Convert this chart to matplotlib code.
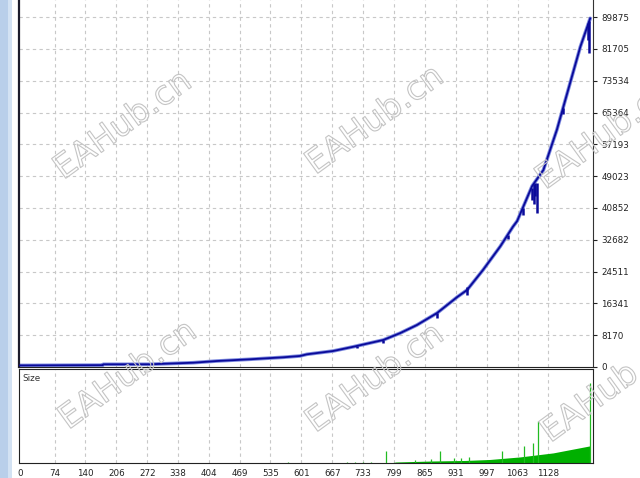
import matplotlib
matplotlib.use('Agg')
import matplotlib.pyplot as plt
import matplotlib.patheffects as pe
from matplotlib.patches import Rectangle

# ---- data ----
x_ticks = [0, 74, 140, 206, 272, 338, 404, 469, 535, 601, 667, 733, 799, 865, 931, 997, 1063, 1128]
y_ticks = [0, 8170, 16341, 24511, 32682, 40852, 49023, 57193, 65364, 73534, 81705, 89875]

balance_trades = [0, 100, 177, 178, 278, 370, 421, 491, 562, 598, 613, 669, 712, 776,
                  812, 848, 891, 934, 955, 989, 1026, 1053, 1062, 1094, 1118, 1147,
                  1160, 1197, 1218]
balance_values = [400, 450, 480, 690, 700, 1100, 1540, 1980, 2490, 2830, 3260, 4110, 5200, 6940,
                  8700, 10790, 13870, 17980, 19780, 24920, 31000, 36040, 37500, 46500, 50600, 61000,
                  66540, 82290, 89580]

dip_trades = [720, 776, 891, 955, 1043, 1075, 1094, 1097, 1100, 1105, 1160, 1214, 1216]
dip_tops = [5400, 6940, 13870, 20500, 34000, 40800, 46000, 47000, 47300, 47300, 66500, 88500, 89000]
dip_lows = [4900, 6100, 12600, 18500, 33000, 39000, 43000, 42000, 44000, 39640, 65000, 84000, 80670]

lot_trades = [572, 699, 716, 733, 750, 782, 844, 877, 897, 928, 941, 959, 1030, 1076, 1095, 1107, 1218]
lot_sizes = [1, 1, 1, 1, 1, 12, 3, 4, 12, 5, 5, 6, 12, 17, 20, 42, 79]
base_trades = [790, 803, 882, 950, 1004, 1068, 1139, 1218]
base_sizes = [0, 1, 2, 2.5, 3.5, 6, 10, 17]

# ---- figure ----
W, H = 640, 478
fig = plt.figure(figsize=(6.4, 4.78), dpi=100)
fig.patch.set_facecolor('white')

# left blue strip
fig.patches.append(Rectangle((0, 0), 12 / W, 1, transform=fig.transFigure,
                             facecolor='#b9cfea', edgecolor='none', zorder=0))
fig.patches.append(Rectangle((8 / W, 0), 4 / W, 1, transform=fig.transFigure,
                             facecolor='#d3e2f3', edgecolor='none', zorder=0))

def fx(px):
    return px / W

def fy(py):
    return 1 - py / H

left, right = 19, 593
ax = fig.add_axes([fx(left), fy(367), fx(right - left), fy(0) - fy(367)])
ax2 = fig.add_axes([fx(left), fy(463), fx(right - left), fy(369) - fy(463)])

xlim = (-2, 1224)
grid_kw = dict(color='#c8c8c8', lw=0.8, linestyle=(0, (3, 3)))

# main panel
ax.set_xlim(*xlim)
ax.set_ylim(0, 94290)
for t in x_ticks[1:]:
    ax.axvline(t, zorder=0, **grid_kw)
for v in y_ticks[1:]:
    ax.axhline(v, zorder=0, **grid_kw)
ax.plot(balance_trades, balance_values, color='#7d8ade', lw=2.6, zorder=2, solid_capstyle='round')
ax.plot(balance_trades, balance_values, color='#0a0a9a', lw=1.3, zorder=3)
ax.vlines(dip_trades, dip_lows, dip_tops, color='#0a0a9a', lw=1.8, zorder=3)
ax.yaxis.tick_right()
ax.set_yticks(y_ticks)
ax.set_yticklabels([str(v) for v in y_ticks])
ax.tick_params(axis='y', length=3, width=0.8, pad=3, labelsize=6.3, colors='#222222')
ax.set_xticks([])
ax.spines['top'].set_visible(False)
ax.spines['left'].set_linewidth(1.6)
ax.spines['left'].set_color('#1c1c2c')
ax.spines['right'].set_color('#333333')
ax.spines['bottom'].set_color('#222222')

# lower panel
ax2.set_xlim(*xlim)
ax2.set_ylim(0, 93)
for t in x_ticks[1:]:
    ax2.axvline(t, zorder=0, **grid_kw)
ax2.fill_between(base_trades, 0, base_sizes, color='#00b000', lw=0, zorder=2)
ax2.vlines(lot_trades, 0, lot_sizes, color='#22bb22', lw=0.9, zorder=3)
ax2.set_xticks(x_ticks)
ax2.set_xticklabels([str(t) for t in x_ticks])
ax2.set_yticks([])
ax2.tick_params(axis='x', length=0, pad=4, labelsize=6.3, colors='#222222')
for s in ax2.spines.values():
    s.set_color('#222222')
ax2.text(0.006, 0.95, 'Size', transform=ax2.transAxes, fontsize=6.3,
         color='#333333', va='top', ha='left')

# watermarks (hollow outlined text)
wm_pos = [(123, 125), (375, 120), (605, 135), (128, 375), (375, 378), (610, 388)]
for (px, py) in wm_pos:
    fig.text(fx(px), fy(py), 'EAHub.cn', fontsize=24, rotation=36,
             ha='center', va='center', color='none', zorder=10,
             path_effects=[pe.Stroke(linewidth=0.8, foreground='#c4c4c4')])

fig.savefig('out.png', dpi=100)
